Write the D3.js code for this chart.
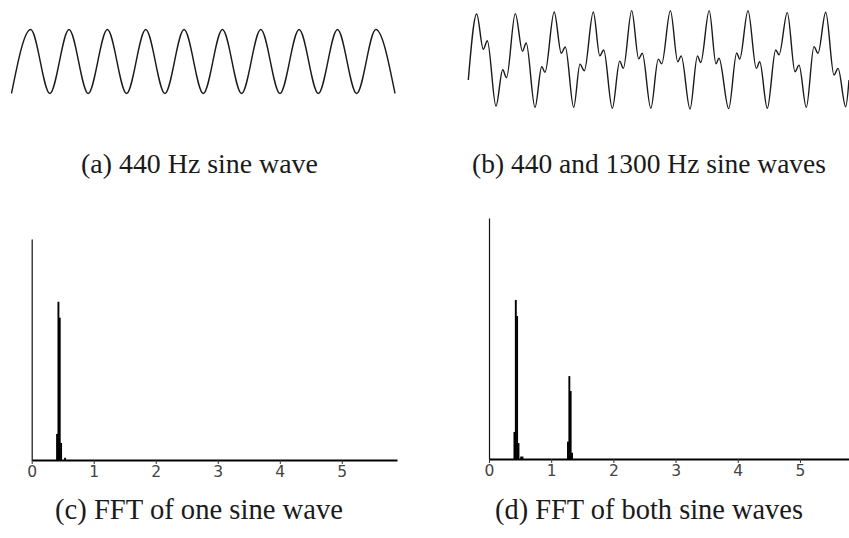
<!DOCTYPE html>
<html>
<head>
<meta charset="utf-8">
<script src="https://cdn.jsdelivr.net/npm/d3@7"></script>
<style>
  body { margin: 0; background: #fff; }
  svg { display: block; }
</style>
</head>
<body>
<svg id="chart" width="849" height="538"></svg>
<script>
// (a) 440 Hz sine: turning points (time in ms)
const sineTimes = [0, 1.136, 2.273, 3.409, 4.545, 5.682, 6.818, 7.955, 9.091, 10.227, 11.364,
  12.5, 13.636, 14.773, 15.909, 17.045, 18.182, 19.318, 20.455, 21.591, 22.727];
const sineValues = [-1, 1, -1, 1, -1, 1, -1, 1, -1, 1, -1, 1, -1, 1, -1, 1, -1, 1, -1, 1, -1];

// (b) 440 + 1300 Hz: turning points
const mixTimes = [0, 0.492, 0.879, 1.114, 1.623, 2.016, 2.239, 2.754, 3.176, 3.393, 3.909,
  4.302, 4.495, 5.034, 5.450, 5.685, 6.177, 6.546, 6.798, 7.326, 7.707, 7.935, 8.439,
  8.873, 9.084, 9.576, 9.987, 10.197, 10.696, 11.135, 11.334, 11.844, 12.278, 12.477,
  12.993, 13.432, 13.620, 14.118, 14.517, 14.692, 15.261, 15.730, 15.906, 16.392, 16.879,
  17.078, 17.523, 18.015, 18.209, 18.695, 19.147, 19.381, 19.809, 20.260, 20.495, 20.946,
  21.432, 21.667, 22.118, 22.311];
const mixValues = [-0.62, 1.38, 0.31, 0.57, -1.41, -0.31, -0.55, 1.39, 0.25, 0.50, -1.45,
  -0.22, -0.39, 1.44, 0.19, 0.38, -1.45, -0.14, -0.34, 1.44, 0.11, 0.29, -1.48,
  -0.05, -0.27, 1.48, 0.02, 0.19, -1.48, 0.01, -0.13, 1.48, -0.07, 0.11,
  -1.50, 0.11, -0.09, 1.48, -0.13, 0.04, -1.49, 0.20, 0.01, 1.48, -0.27,
  -0.07, -1.48, 0.29, 0.14, 1.42, -0.37, -0.17, -1.45, 0.39, 0.19, 1.43,
  -0.47, -0.27, -1.43, -0.62];

// (c) FFT of one sine (frequency in kHz, relative magnitude)
const fftOneFreqs = [0.409, 0.431, 0.452, 0.474, 0.538];
const fftOneMags = [0.118, 0.716, 0.644, 0.077, 0.01];

// (d) FFT of both sines
const fftBothFreqs = [0.409, 0.431, 0.452, 0.474, 0.517, 0.538, 1.270, 1.292, 1.313, 1.335];
const fftBothMags = [0.112, 0.66, 0.593, 0.066, 0.01, 0.01, 0.072, 0.344, 0.282, 0.026];

const fftTicks = [0, 1, 2, 3, 4, 5];
const captions = ["(a) 440 Hz sine wave", "(b) 440 and 1300 Hz sine waves",
  "(c) FFT of one sine wave", "(d) FFT of both sine waves"];

const binWidth = 0.0215; // kHz per FFT bin

const svg = d3.select("#chart");
svg.append("rect").attr("width", 849).attr("height", 538).attr("fill", "#fff");

// ---- waveforms ----
const drawWave = (times, values, xRange, yDomain, yRange) => {
  const x = d3.scaleLinear().domain([0, 22.727]).range(xRange);
  const y = d3.scaleLinear().domain(yDomain).range(yRange);
  const line = d3.line()
    .x((d) => x(d[0]))
    .y((d) => y(d[1]))
    .curve(d3.curveMonotoneX);
  svg.append("path")
    .datum(times.map((t, i) => [t, values[i]]))
    .attr("fill", "none")
    .attr("stroke", "#1a1a1a")
    .attr("stroke-width", 1.4)
    .attr("d", line);
};

drawWave(sineTimes, sineValues, [11.5, 395], [-1, 1], [93.5, 29.5]);
drawWave(mixTimes, mixValues, [468.3, 856.1], [-1.5, 1.5], [109, 10]);

// ---- spectra ----
const drawFFT = (freqs, mags, xRange, yRange) => {
  const x = d3.scaleLinear().domain([0, 5.89]).range(xRange);
  const y = d3.scaleLinear().domain([0, 1]).range(yRange);
  const g = svg.append("g");
  const bw = Math.max(x(binWidth) - x(0), 1.9);

  g.selectAll("rect.bin")
    .data(freqs.map((f, i) => ({ f, m: mags[i] })))
    .join("rect")
    .attr("class", "bin")
    .attr("x", (d) => x(d.f) - bw / 2)
    .attr("width", bw)
    .attr("y", (d) => y(d.m))
    .attr("height", (d) => y(0) - y(d.m))
    .attr("fill", "#000");

  const yAxis = g.append("g")
    .attr("transform", `translate(${x(0)},0)`)
    .call(d3.axisLeft(y).tickValues([]).tickSizeOuter(0));
  yAxis.select(".domain").attr("stroke", "#111").attr("stroke-width", 1.2);

  const xAxis = g.append("g")
    .attr("transform", `translate(0,${y(0)})`)
    .call(d3.axisBottom(x).tickValues(fftTicks).tickSize(4).tickSizeOuter(0)
      .tickPadding(2).tickFormat(d3.format("d")));
  xAxis.select(".domain").attr("stroke", "#000").attr("stroke-width", 2.2);
  xAxis.selectAll(".tick line").attr("stroke", "#333");
  xAxis.selectAll(".tick text")
    .attr("fill", "#444")
    .style("font-family", "'DejaVu Sans', sans-serif")
    .style("font-size", "15.5px");
};

drawFFT(fftOneFreqs, fftOneMags, [31.7, 397], [460, 239]);
drawFFT(fftBothFreqs, fftBothMags, [489, 855.3], [459, 218]);

// ---- captions ----
const capLayout = [
  { cx: 199.5, base: 173, w: 237 },
  { cx: 649, base: 173, w: 354 },
  { cx: 199, base: 519, w: 288 },
  { cx: 649, base: 519, w: 308 }
];

captions.forEach((txt, i) => {
  const c = capLayout[i];
  const t = svg.append("text")
    .attr("x", c.cx)
    .attr("y", c.base)
    .attr("text-anchor", "middle")
    .attr("fill", "#1a1a1a")
    .style("font-family", "'Liberation Serif', 'DejaVu Serif', serif")
    .style("font-size", "20px")
    .text(txt);
  const len = t.node().getComputedTextLength();
  t.style("font-size", (20 * c.w / len).toFixed(2) + "px");
});
</script>
</body>
</html>
